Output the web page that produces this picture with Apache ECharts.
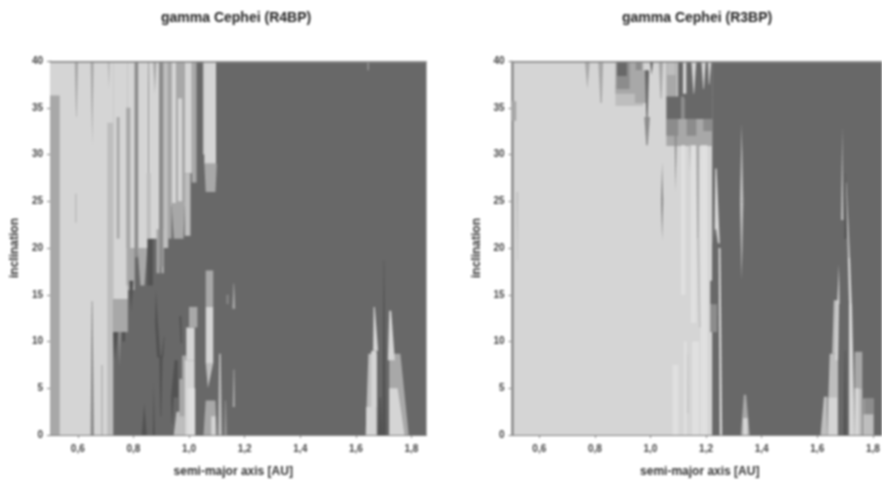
<!DOCTYPE html>
<html>
<head>
<meta charset="utf-8">
<style>html,body{margin:0;padding:0;background:#fff;overflow:hidden}#chart{width:882px;height:481px;filter:blur(0.8px)}</style>
<script src="https://cdn.jsdelivr.net/npm/echarts@6/dist/echarts.min.js"></script>
</head>
<body>
<div id="chart"></div>
<script>
const titles = ['gamma Cephei (R4BP)', 'gamma Cephei (R3BP)'];
const xName = 'semi-major axis [AU]';
const yName = 'inclination';
const xTicks = [0.6, 0.8, 1.0, 1.2, 1.4, 1.6, 1.8];
// stability classes, darkest to lightest
const classGrays = ['#525252', '#686868', '#8c8c8c', '#a8a8a8', '#bebebe', '#d5d5d5', '#e0e0e0'];
const backgroundClass = 1;
// contour regions: [class, aLow0, aLow1, iLow, iHigh, (aHigh0, aHigh1)]
const r4bpRegions = [
  [5,.5,.727,0,40],[5,.727,.78,14.5,40],[3,.727,.78,11,14.5],[3,.5,.535,0,36.3],
  [3,.594,.596,34,40,.589,.601],[4,.59,.596,22.7,25.8],[3,.652,.652,31,40,.646,.657],
  [4,.712,.712,37,40,.706,.717],[4,.706,.727,0,33.4],[3,.685,.689,0,7.5],[3,.74,.75,21,34],
  [3,.775,.789,16,35],[2,.646,.658,0,14.3,.65,.653],
  [0,.731,.731,8,11,.727,.745],[2,.75,.75,7.3,11,.745,.755],[0,.76,.77,10,11],
  [5,.78,.805,20,40],[3,.78,.805,15.5,20],[3,.775,.789,20,35],[0,.792,.792,13.2,16.5,.785,.8],
  [2,.805,.817,19,40],[5,.817,.853,20,40],[3,.825,.84,16,20,.815,.85],
  [0,.85,.87,16,21],[2,.856,.856,37,40,.852,.86],[5,.855,.893,21,40],[3,.877,.877,36.5,40,.871,.883],
  [4,.848,.862,21,28],[3,.883,.895,17.3,22],[3,.9,.91,17.3,22],
  [2,.893,.907,18,40],[4,.907,.925,20,40],[3,.925,.937,21,40],
  [5,.937,.955,24.5,40],[3,.945,.98,21,24.8,.937,.985],[3,.955,.985,24.5,40],[5,.96,.975,25,36],
  [5,.985,1.01,28,40],[4,.985,1.005,21.3,28],[3,1.01,1.027,27,40],
  [4,1.05,1.06,30,40],[5,1.055,1.097,29,40],[3,1.06,1.095,26,29,1.055,1.1],
  [0,.83,.848,0,3.4,.839,.839],[0,.87,.877,0,5.6,.873,.873],
  [0,.885,.897,8.3,12,.878,.888],[0,.878,.888,12,15.5,.881,.881],[0,.9,.907,8.3,10.5,.91,.912],
  [0,.897,.9,2,8.5,.893,.905],[0,.938,.94,1.2,4,.935,.945],[0,.935,.96,4,8,.948,.96],
  [0,.97,.975,9.8,12.7,.965,.972],
  [4,.945,.985,0,2.5,.955,.985],[3,.965,.99,2,6],[3,.975,.99,6,8.5],
  [5,.985,1.02,0,8],[5,.99,1.02,8,11.5],[3,1.0,1.03,11.5,13.7],[6,.995,1.022,0,5],
  [3,1.052,1.1,0,3.7,1.06,1.095],[5,1.08,1.095,0,2],[3,1.06,1.087,13.7,17.6],[5,1.06,1.087,7.7,13.7],
  [4,1.068,1.068,5,7.7,1.06,1.087],[4,1.105,1.118,0,8.7,1.108,1.114],[2,1.125,1.137,0,3.7,1.129,1.133],
  [3,1.157,1.165,3,7,1.16,1.163],[3,1.156,1.166,13.5,16.2,1.16,1.162],[2,1.135,1.142,14,15],
  [4,1.635,1.676,0,8.7,1.645,1.676],[5,1.637,1.672,0,3],[5,1.655,1.675,3,9],[5,1.662,1.68,9,13.7,1.664,1.668],
  [3,1.72,1.79,0,8.7,1.72,1.76],[5,1.715,1.74,8,13.3,1.72,1.727],[5,1.72,1.775,0,5,1.72,1.75],
  [0,1.695,1.708,0,18.7,1.7,1.702],[0,1.68,1.695,0,4,1.685,1.69],[3,1.642,1.646,39,40],
  [2,.5,1.854,39.8,40]
];
const r3bpRegions = [
  [5,.5,1.222,0,40],[2,.5,.508,0,40],[3,.5,.517,33.6,35.7],[4,.52,.522,18.7,26,.518,.524],
  [3,.773,.773,37,40,.764,.782],[3,.82,.825,35.5,40,.812,.83],
  [4,.874,.974,35.2,37.5],[3,.874,.974,36.5,40],[2,.878,.925,37,40],[1,.88,.915,38.4,40],[2,.947,.968,39,40],
  [3,.944,.99,35.5,39],[1,.985,.99,34,39,.98,.995],[2,.985,.99,31,34,.978,.998],
  [1,1.004,1.004,38.5,40,.998,1.01],[3,1.036,1.04,36,40,1.03,1.045],
  [3,1.057,1.095,36,40],[4,1.06,1.09,38.5,40],
  [1,1.099,1.222,36,40],[5,1.117,1.129,36.5,40],[5,1.155,1.157,36.5,40,1.147,1.165],
  [5,1.19,1.192,37,40,1.183,1.199],[5,1.21,1.212,37.5,40,1.207,1.219],
  [1,1.057,1.11,33.8,36.2],[2,1.11,1.122,33.8,36.2],[1,1.122,1.222,33.8,36.2],
  [3,1.057,1.222,30.9,33.8],[2,1.057,1.1,32,33.8],[2,1.13,1.165,32,33.8],[2,1.19,1.222,32.5,33.8],
  [6,1.11,1.125,15,31],[6,1.145,1.165,12,31],[6,1.18,1.205,0,31],[6,1.08,1.1,0,7.5],[6,1.12,1.13,0,10],[6,1.15,1.175,0,10],
  [2,1.09,1.09,26,33.8,1.086,1.096],[4,1.142,1.142,28,31,1.138,1.145],[3,1.168,1.173,21,31,1.165,1.175],
  [4,1.175,1.18,11.5,21,1.168,1.175],[4,1.133,1.137,2.3,8.7,1.134,1.136],
  [2,1.042,1.042,20.8,25,1.038,1.046],[2,1.038,1.046,25,29.2,1.042,1.042],
  [5,1.23,1.25,20,28.5,1.233,1.238],[1,1.226,1.248,0,11],[2,1.215,1.24,11,14],[1,1.215,1.243,14,16.5],
  [1,1.222,1.25,16.5,20.5],[1,1.225,1.245,20,22,1.232,1.236],[5,1.249,1.258,0,20,1.245,1.252],
  [3,1.325,1.357,0,4.3,1.336,1.344],[5,1.333,1.35,0,1.8],
  [4,1.328,1.328,16.6,25,1.322,1.334],[4,1.322,1.334,25,33.3,1.328,1.328],
  [4,1.612,1.636,0,4.1,1.624,1.636],[4,1.636,1.675,0,8.7,1.645,1.675],[4,1.654,1.675,8.7,14.4,1.66,1.675],
  [5,1.665,1.675,8,14,1.672,1.678],[5,1.672,1.68,14,18.3,1.678,1.678],[5,1.64,1.672,0,4],
  [5,1.714,1.735,0,14,1.714,1.725],[5,1.715,1.725,13.4,19,1.71,1.718],[4,1.71,1.718,19,27,1.703,1.705],
  [4,1.686,1.694,23,33,1.69,1.69],[0,1.698,1.706,21,28,1.701,1.702],[0,1.695,1.705,0,9,1.699,1.702],
  [3,1.735,1.762,5,8.9],[4,1.735,1.762,0,5],[5,1.735,1.75,0,5],
  [3,1.765,1.804,0,3.9],[2,1.77,1.804,2.2,3.9],[4,1.765,1.8,0,2.2],
  [2,.5,1.833,39.8,40]
];
const panelRegions = [r4bpRegions, r3bpRegions];
const aMaxByPanel = [1.854, 1.833];

const textGray = '#333';
const axisGray = '#808080';
const labelFont = {color: '#444', fontSize: 10, fontFamily: 'Liberation Sans', fontWeight: 'bold'};
const nameFont = {color: textGray, fontSize: 12, fontFamily: 'Liberation Sans', fontWeight: 'bold'};
const grids = [
  {left: 50, top: 61, width: 376.5, height: 374, outerBoundsMode: 'none', backgroundColor: classGrays[backgroundClass], show: true, borderWidth: 0},
  {left: 511.5, top: 61, width: 370.5, height: 374, outerBoundsMode: 'none', backgroundColor: classGrays[backgroundClass], show: true, borderWidth: 0}
];
const line = {show: true, onZero: false, lineStyle: {color: axisGray, width: 1}};
const chart = echarts.init(document.getElementById('chart'), null, {renderer: 'canvas'});
chart.setOption({
  animation: false,
  backgroundColor: '#fff',
  title: titles.map((t, i) => ({
    text: t, left: i ? 617 : 156, top: 6,
    textStyle: {color: '#222', fontSize: 14, fontFamily: 'Liberation Sans', fontWeight: 'bold'}
  })),
  grid: grids,
  xAxis: grids.map((g, i) => ({
    type: 'value', gridIndex: i, min: 0.5, max: aMaxByPanel[i],
    name: xName, nameLocation: 'middle', nameGap: 31,
    nameTextStyle: {...nameFont, padding: i ? [0, 0, 0, 6] : [0, 10, 0, 0]},
    axisLine: line, splitLine: {show: false},
    axisTick: {show: true, length: 3, lineStyle: {color: axisGray}, customValues: xTicks},
    axisLabel: {...labelFont, margin: 9, customValues: xTicks, formatter: v => v.toFixed(1).replace('.', ',')}
  })),
  yAxis: grids.map((g, i) => ({
    type: 'value', gridIndex: i, min: 0, max: 40, interval: 5,
    name: yName, nameLocation: 'middle', nameGap: 29, nameTextStyle: nameFont,
    axisLine: line, splitLine: {show: false},
    axisTick: {show: true, length: 3, lineStyle: {color: axisGray}},
    axisLabel: {...labelFont, margin: 7}
  })),
  series: panelRegions.map((regions, p) => ({
    type: 'custom', xAxisIndex: p, yAxisIndex: p, clip: true, silent: true,
    data: regions.map((r, k) => [r[1], r[3], k]),
    encode: {x: 0, y: 1},
    renderItem: (params, api) => {
      const r = regions[api.value(2)];
      const top0 = r.length > 5 ? r[5] : r[1];
      const top1 = r.length > 5 ? r[6] : r[2];
      const pts = [[r[1], r[3]], [r[2], r[3]], [top1, r[4]], [top0, r[4]]].map(q => api.coord(q));
      return {type: 'polygon', shape: {points: pts}, style: {fill: classGrays[r[0]]}};
    }
  }))
});
</script>
</body>
</html>
